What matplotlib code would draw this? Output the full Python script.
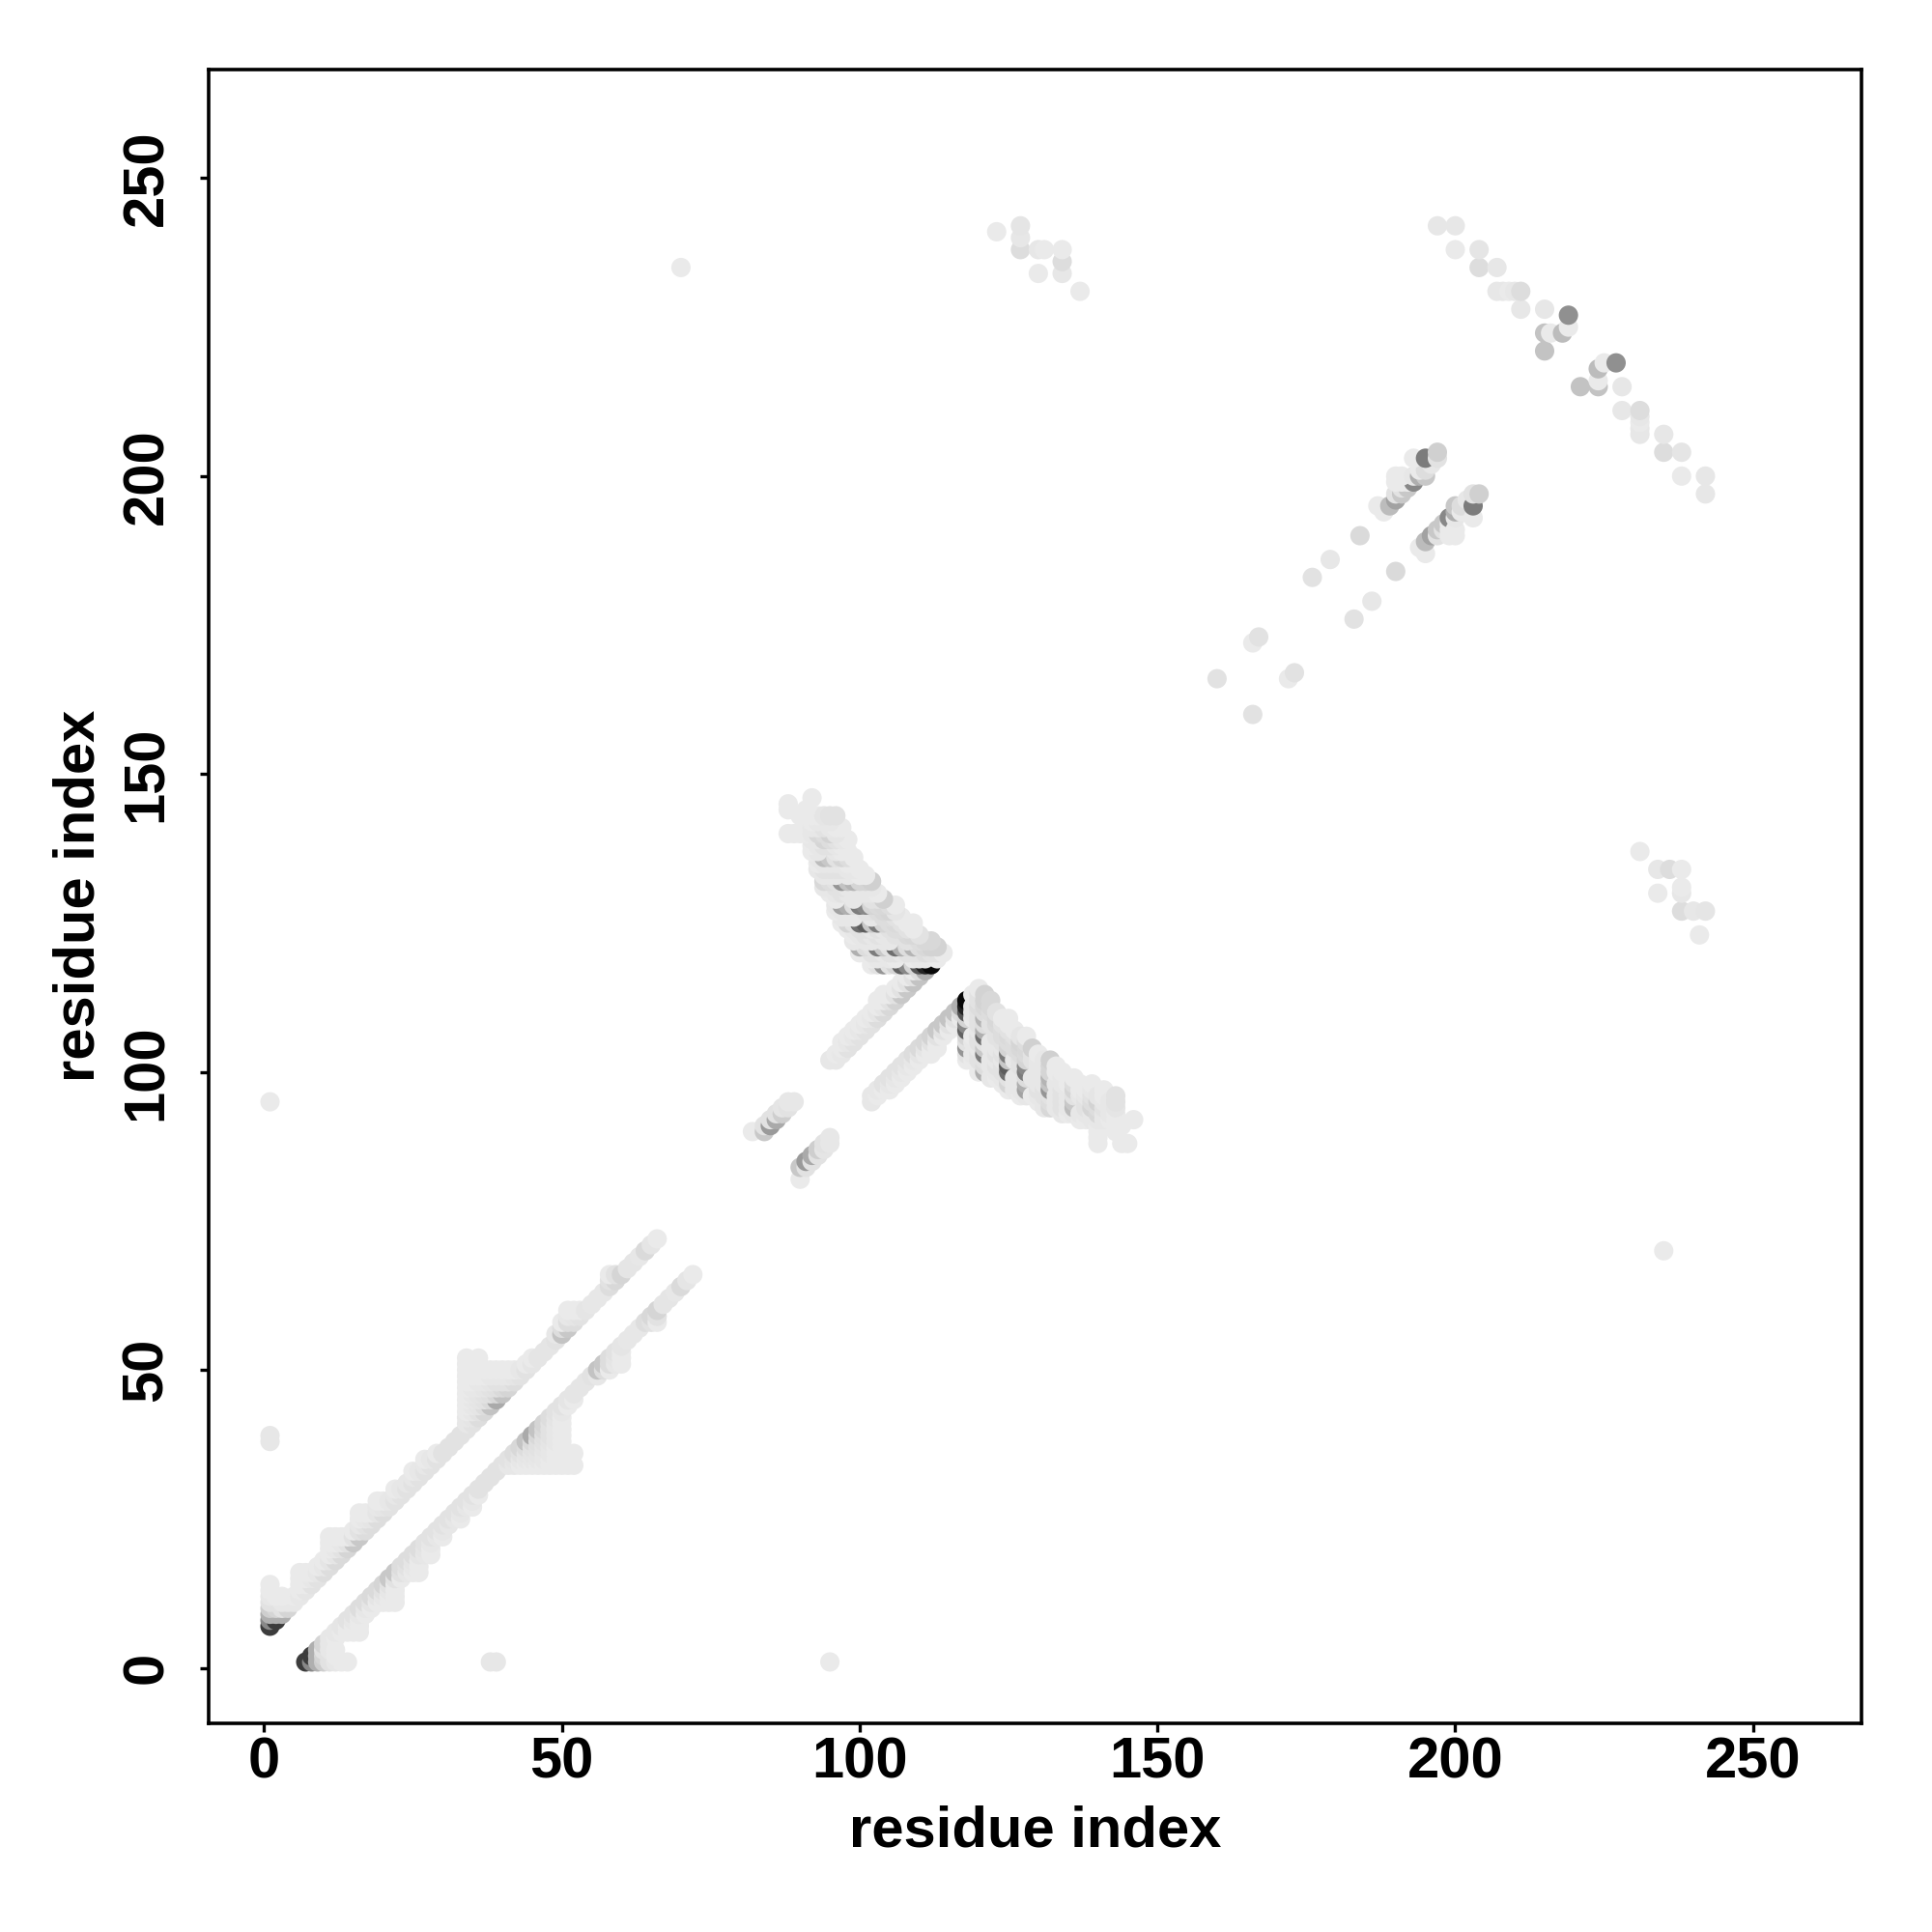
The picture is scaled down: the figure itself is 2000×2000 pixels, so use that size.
import numpy as np
import matplotlib
matplotlib.use("Agg")
import matplotlib.pyplot as plt

# contacts are (residue i, residue j, shade) with i < j, shade 0 = white, 1 = black
band_start = [
    (1,7,.75),(1,8,.45),(1,9,.3),(1,10,.18),(1,11,.1),(1,12,.08),(1,13,.07),(1,14,.07),
    (2,8,.75),(2,9,.3),(2,10,.15),(2,11,.1),(2,12,.07),
    (3,9,.3),(3,10,.1),(3,11,.08),(3,12,.07),
    (4,10,.15),(4,11,.08),(5,11,.08),(5,12,.07),
    (6,12,.08),(6,13,.07),(6,14,.07),(6,15,.07),(6,16,.07),
    (7,13,.09),(7,14,.07),(7,15,.07),(7,16,.07),
    (8,14,.1),(8,15,.08),(8,16,.07),
    (9,15,.1),(9,16,.08),(9,17,.07),
    (10,16,.12),(10,17,.08),(10,18,.07),
    (11,17,.12),(11,18,.09),(11,19,.07),(11,20,.07),(11,21,.07),(11,22,.07),
    (12,18,.13),(12,19,.09),(12,20,.08),(12,21,.07),(12,22,.07),
    (13,19,.13),(13,20,.1),(13,21,.08),(13,22,.07),
    (14,20,.15),(14,21,.1),(14,22,.07),
    (15,21,.2),(15,22,.1),(15,23,.07),
    (16,22,.2),(16,23,.1),(16,24,.08),(16,25,.07),(16,26,.07),
    (17,23,.12),(17,24,.1),(17,25,.08),(17,26,.07),
    (18,24,.12),(18,25,.09),(18,26,.07),
    (19,25,.12),(19,26,.09),(19,27,.08),(19,28,.07),
    (20,26,.12),(20,27,.09),(20,28,.07),
    (21,27,.1),(21,28,.08),
    (22,28,.1),(22,29,.08),(22,30,.07),
    (23,29,.1),(23,30,.08),
    (24,30,.1),(24,31,.08),
    (25,31,.1),(25,32,.08),(25,33,.07),
    (26,32,.1),(26,33,.08),
    (27,33,.1),(27,34,.08),(27,35,.07),
    (28,34,.1),(28,35,.08),
    (29,35,.1),(29,36,.07),
    (30,36,.1),(31,37,.1),(32,38,.1),(33,39,.1),
]
band_box = [
    (34,40,.1),(34,41,.08),(34,42,.08),(34,43,.07),(34,44,.07),(34,45,.07),(34,46,.07),(34,47,.07),(34,48,.07),(34,49,.07),(34,50,.07),(34,51,.07),(34,52,.07),
    (35,41,.1),(35,42,.09),(35,43,.08),(35,44,.08),(35,45,.08),(35,46,.08),(35,47,.08),(35,48,.07),(35,49,.07),(35,50,.07),(35,51,.07),
    (36,42,.12),(36,43,.1),(36,44,.09),(36,45,.09),(36,46,.09),(36,47,.08),(36,48,.08),(36,49,.07),(36,50,.07),(36,51,.07),(36,52,.07),
    (37,43,.14),(37,44,.12),(37,45,.1),(37,46,.1),(37,47,.09),(37,48,.08),(37,49,.07),(37,50,.07),
    (38,44,.22),(38,45,.13),(38,46,.11),(38,47,.1),(38,48,.09),(38,49,.08),(38,50,.07),
    (39,45,.32),(39,46,.14),(39,47,.11),(39,48,.1),(39,49,.08),(39,50,.07),
    (40,46,.22),(40,47,.13),(40,48,.1),(40,49,.08),(40,50,.07),
    (41,47,.15),(41,48,.1),(41,49,.08),(41,50,.07),
    (42,48,.12),(42,49,.09),(42,50,.07),
    (43,49,.1),(43,50,.08),
    (44,50,.1),(44,51,.07),
    (45,51,.09),(45,52,.07),
]
band_end = [
    (46,52,.09),(47,53,.09),(48,54,.09),
    (49,55,.1),(49,56,.08),
    (50,56,.22),(50,57,.12),(50,58,.07),
    (51,57,.2),(51,58,.12),(51,59,.08),(51,60,.07),
    (52,58,.12),(52,59,.09),(52,60,.07),
    (53,59,.1),(53,60,.07),
    (54,60,.09),(55,61,.08),(56,62,.08),(57,63,.08),
    (58,64,.12),(58,65,.1),(58,66,.07),
    (59,65,.14),(59,66,.1),
    (60,66,.15),(61,67,.09),
    (62,68,.09),(63,69,.08),
    (64,70,.13),(65,71,.09),(66,72,.07),
]
short_sheet = [
    (82,90,.07),(84,90,.2),(84,91,.1),(85,91,.38),(85,92,.1),(86,92,.32),(86,93,.1),
    (87,93,.18),(87,94,.09),(88,94,.1),(88,95,.08),(89,95,.08),
]
v_stem = [
    (95,102,.08),(96,102,.08),(96,103,.07),(97,103,.08),(97,104,.07),(97,105,.07),
    (98,104,.1),(98,105,.08),(98,106,.07),(99,105,.1),(99,106,.08),(99,107,.07),
    (100,106,.1),(100,107,.08),(100,108,.07),(101,107,.1),(101,108,.08),(101,109,.07),
    (102,108,.1),(102,109,.08),(102,110,.07),(103,109,.12),(103,110,.09),(103,111,.07),(103,112,.07),
    (104,110,.13),(104,111,.09),(104,112,.07),(104,113,.07),(105,111,.14),(105,112,.1),(105,113,.07),
    (106,112,.16),(106,113,.1),(106,114,.07),(107,113,.2),(107,114,.1),(107,115,.07),
    (108,114,.2),(108,115,.1),(108,116,.07),(109,115,.22),(109,116,.1),(109,117,.07),
    (110,116,.22),(110,117,.12),(111,117,.3),
]
wing_118_124 = [
    (102,118,.07),(103,118,.1),(104,118,.4),(105,118,.1),(106,118,.15),(107,118,.6),(108,118,.45),(109,118,.15),(110,118,.65),(111,118,.85),(112,118,.95),
    (102,119,.07),(103,119,.08),(105,119,.08),(106,119,.07),(109,119,.07),(110,119,.08),(111,119,.08),(113,119,.07),
    (100,120,.07),(101,120,.07),(102,120,.1),(103,120,.1),(104,120,.08),(105,120,.1),(106,120,.1),(107,120,.08),(108,120,.1),(109,120,.1),(110,120,.1),(111,120,.12),(112,120,.1),(113,120,.1),(114,120,.07),
    (100,121,.3),(101,121,.12),(102,121,.1),(103,121,.5),(104,121,.2),(105,121,.1),(106,121,.55),(107,121,.3),(108,121,.12),(109,121,.28),(110,121,.12),(111,121,.14),(112,121,.16),(113,121,.16),
    (99,122,.08),(101,122,.08),(102,122,.08),(104,122,.08),(105,122,.08),(108,122,.1),(110,122,.12),(111,122,.14),(112,122,.14),
    (99,123,.07),(100,123,.08),(101,123,.1),(102,123,.08),(103,123,.1),(104,123,.08),(105,123,.08),(106,123,.1),(107,123,.1),(108,123,.13),(109,123,.14),(110,123,.1),
    (98,124,.07),(99,124,.08),(100,124,.1),(101,124,.1),(102,124,.08),(103,124,.1),(104,124,.08),(105,124,.1),(106,124,.12),(107,124,.12),(108,124,.1),(109,124,.07),
]
wing_125_131 = [
    (97,125,.07),(98,125,.15),(99,125,.1),(100,125,.55),(101,125,.62),(102,125,.2),(103,125,.5),(104,125,.15),(105,125,.12),(106,125,.13),(107,125,.1),(108,125,.07),(109,125,.07),
    (97,126,.08),(98,126,.08),(99,126,.08),(102,126,.08),(104,126,.12),(105,126,.12),(106,126,.1),(107,126,.07),
    (96,127,.07),(97,127,.08),(98,127,.08),(99,127,.08),(100,127,.08),(101,127,.1),(102,127,.1),(103,127,.12),(104,127,.14),(105,127,.15),(106,127,.09),
    (96,128,.08),(97,128,.35),(98,128,.3),(99,128,.12),(100,128,.5),(101,128,.45),(102,128,.15),(103,128,.13),(104,128,.14),(105,128,.12),(106,128,.07),
    (96,129,.07),(99,129,.08),(102,129,.1),(103,129,.1),(104,129,.17),
    (95,130,.07),(96,130,.08),(97,130,.1),(98,130,.08),(99,130,.08),(100,130,.08),(101,130,.08),(102,130,.08),(103,130,.07),
    (94,131,.08),(95,131,.08),(96,131,.1),(97,131,.1),(98,131,.08),(99,131,.08),(100,131,.08),(101,131,.08),(102,131,.08),
]
wing_132_146 = [
    (94,132,.14),(95,132,.12),(96,132,.1),(97,132,.4),(98,132,.22),(99,132,.28),(100,132,.15),(101,132,.15),(102,132,.17),
    (94,133,.08),(95,133,.08),(96,133,.08),(98,133,.08),(100,133,.07),(101,133,.07),
    (93,134,.08),(94,134,.1),(95,134,.1),(96,134,.1),(97,134,.1),(98,134,.08),(99,134,.08),(100,134,.07),
    (93,135,.07),(94,135,.08),(95,135,.08),(96,135,.08),(97,135,.08),(98,135,.07),(99,135,.07),
    (93,136,.08),(94,136,.25),(95,136,.2),(96,136,.1),(97,136,.15),(98,136,.12),(99,136,.07),
    (92,137,.07),(93,137,.08),(96,137,.08),(97,137,.07),(98,137,.07),
    (92,138,.07),(93,138,.08),(94,138,.1),(95,138,.1),(96,138,.08),(97,138,.07),
    (92,139,.08),(93,139,.08),(94,139,.15),(95,139,.12),(96,139,.1),(97,139,.08),(98,139,.07),
    (88,140,.07),(89,140,.07),(90,140,.07),(91,140,.07),(92,140,.08),(93,140,.14),(94,140,.12),(95,140,.16),(96,140,.09),
    (92,141,.08),(93,141,.08),(94,141,.1),(95,141,.08),(96,141,.07),(97,141,.07),
    (92,142,.07),(93,142,.08),(94,142,.08),(95,142,.08),
    (90,143,.07),(92,143,.07),(93,143,.07),(94,143,.09),(95,143,.1),(96,143,.1),
    (88,144,.07),(91,144,.07),(88,145,.07),(92,146,.07),
]
parallel_far = [
    (160,166,.1),(166,172,.07),(167,173,.1),(176,183,.1),(179,186,.08),(184,190,.13),
    (187,195,.07),(188,194,.07),(189,195,.25),(190,196,.35),(190,197,.1),(191,197,.2),(191,198,.1),(190,199,.07),(191,199,.07),(190,200,.07),(191,200,.07),
    (192,198,.2),(192,199,.07),(193,199,.45),(193,200,.08),(194,200,.3),(195,200,.2),(194,201,.07),(195,201,.12),(196,202,.08),
    (193,203,.07),(195,203,.5),(197,203,.1),(197,204,.17),
]
anti_far = [
    (197,242,.08),(200,242,.08),(200,238,.07),(204,238,.09),(204,235,.12),(207,235,.08),
    (207,231,.08),(208,231,.08),(209,231,.07),(210,231,.08),(211,231,.12),(211,228,.08),(215,228,.08),
    (219,227,.42),(215,224,.22),(216,224,.07),(218,224,.25),(219,225,.07),(215,221,.22),
]
isolated = [
    (1,38,.08),(1,39,.08),(1,95,.07),(70,235,.07),(123,241,.07),(127,242,.09),(127,240,.08),
    (127,238,.12),(130,238,.08),(131,238,.07),(134,238,.07),(130,234,.07),(134,236,.12),(134,234,.08),(137,231,.07),
]

regions = [band_start, band_box, band_end, short_sheet, v_stem, wing_118_124, wing_125_131, wing_132_146, parallel_far, anti_far, isolated]
contacts = np.array([c for r in regions for c in r])
res_i, res_j, shade = contacts[:, 0], contacts[:, 1], contacts[:, 2]

# later residues paint over earlier ones
order = np.lexsort((res_i, res_j))
res_i, res_j, shade = res_i[order], res_j[order], shade[order]

tick_vals = [0, 50, 100, 150, 200, 250]

plt.rcParams['font.family'] = ['Liberation Sans', 'DejaVu Sans']
plt.rcParams['font.weight'] = 'bold'

fig = plt.figure(figsize=(10, 10), dpi=200)
ax = fig.add_axes([216/2000, 216/2000, (1927-216)/2000, (1784-71.5)/2000])

# map is symmetric, so draw each contact on both sides of the diagonal
ax.scatter(np.r_[res_i, res_j], np.r_[res_j, res_i], c=0.985 - np.r_[shade, shade],
           cmap='gray', vmin=0, vmax=1, s=52, linewidths=0, zorder=2)

ax.set_xlim(-9.3, 268.2)
ax.set_ylim(-9.3, 268.3)
ax.set_xticks(tick_vals)
ax.set_yticks(tick_vals)
ax.tick_params(length=3.2, width=1.2, labelsize=21.5)
ax.tick_params(axis='x', pad=1.5)
ax.tick_params(axis='y', pad=9.8)
plt.setp(ax.get_yticklabels(), rotation=90, va='center')
for s in ax.spines.values():
    s.set_linewidth(1.3)

ax.set_xlabel('residue index', fontsize=21.5, fontweight='bold', labelpad=5.9)
ax.set_ylabel('residue index', fontsize=21.5, fontweight='bold', labelpad=5.7)

fig.savefig('out.png', dpi=200)
